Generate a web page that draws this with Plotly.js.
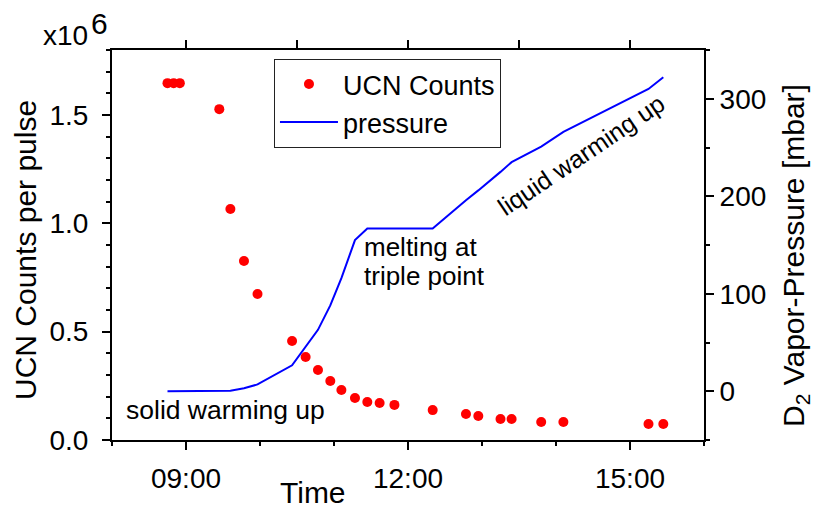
<!DOCTYPE html>
<html>
<head>
<meta charset="utf-8">
<script src="https://cdn.plot.ly/plotly-3.0.1.min.js"></script>
<style>
  html, body { margin: 0; padding: 0; background: #ffffff; }
  #chart { width: 817px; height: 509px; }
</style>
</head>
<body>
<div id="chart"></div>
<script>
// ---- data ----
var day = "2000-01-01 ";
var times = ["08:45","08:50","08:55","09:27","09:36","09:47","09:58","10:26","10:37","10:47","10:57","11:06","11:17","11:27","11:37","11:49","12:20","12:47","12:57","13:15","13:24","13:48","14:06","15:15","15:27"];
// UCN counts per pulse, in units of 10^6
var ucnCounts = [1.647,1.647,1.647,1.527,1.066,0.826,0.674,0.457,0.383,0.323,0.272,0.231,0.194,0.175,0.171,0.162,0.138,0.120,0.111,0.097,0.097,0.083,0.083,0.074,0.074];
// D2 vapor pressure [mbar]
var pressure = [0,0,0,0,0.5,3,7,26.6,45,63,88,116,155,167,167,167,167,196,206,225,235,251,266,310,322];

var xTimes = times.map(function (t) { return day + t; });

var FONT = "Liberation Sans, Arial, sans-serif";

var traces = [
  {
    x: xTimes, y: ucnCounts, name: "UCN Counts", type: "scatter", mode: "markers",
    marker: { color: "#ff0000", size: 10 }, xaxis: "x", yaxis: "y"
  },
  {
    x: xTimes, y: pressure, name: "pressure", type: "scatter", mode: "lines",
    line: { color: "#0000ff", width: 2 }, xaxis: "x", yaxis: "y2"
  },
  {
    // carrier for the top (mirror) axis, invisible
    x: xTimes, y: ucnCounts, type: "scatter", mode: "markers",
    marker: { opacity: 0 }, showlegend: false, hoverinfo: "skip",
    xaxis: "x2", yaxis: "y"
  }
];

var xRange = [day + "08:00", day + "16:00"];

var layout = {
  width: 817, height: 509,
  margin: { l: 112, r: 113, t: 50, b: 69, pad: 0 },
  paper_bgcolor: "#ffffff", plot_bgcolor: "#ffffff",
  font: { family: FONT, color: "#000000", size: 28 },
  showlegend: true,
  legend: {
    x: 0.2736, y: 0.977, xanchor: "left", yanchor: "top",
    bgcolor: "#ffffff", bordercolor: "#222222", borderwidth: 1,
    font: { family: FONT, size: 27, color: "#000000" },
    itemwidth: 58, tracegroupgap: 0,
    entrywidth: 178, entrywidthmode: "pixels"
  },
  xaxis: {
    type: "date", range: xRange, tick0: day + "09:00", dtick: 10800000,
    tickformat: "%H:%M", showgrid: false, zeroline: false,
    showline: true, linecolor: "#000000", linewidth: 2,
    ticks: "outside", ticklen: 8, tickwidth: 2, tickcolor: "#000000",
    ticklabelstandoff: 4,
    tickfont: { family: FONT, size: 28 },
    minor: { ticks: "outside", ticklen: 4, tickwidth: 2, tickcolor: "#000000", dtick: 3600000, tick0: day + "09:00", showgrid: false }
  },
  xaxis2: {
    type: "date", range: xRange, overlaying: "x", side: "top",
    tick0: day + "09:00", dtick: 5400000, showticklabels: false,
    showgrid: false, zeroline: false,
    showline: true, linecolor: "#000000", linewidth: 2,
    ticks: "outside", ticklen: 8, tickwidth: 2, tickcolor: "#000000"
  },
  yaxis: {
    range: [0, 1.8], tick0: 0, dtick: 0.5, tickformat: ".1f",
    showgrid: false, zeroline: false,
    showline: true, linecolor: "#000000", linewidth: 2,
    ticks: "outside", ticklen: 8, tickwidth: 2, tickcolor: "#000000",
    ticklabelstandoff: 8,
    tickfont: { family: FONT, size: 28 },
    minor: { ticks: "outside", ticklen: 4, tickwidth: 2, tickcolor: "#000000", dtick: 0.1, showgrid: false }
  },
  yaxis2: {
    range: [-50, 350], tick0: 0, dtick: 100, overlaying: "y", side: "right",
    showgrid: false, zeroline: false,
    showline: true, linecolor: "#000000", linewidth: 2,
    ticks: "outside", ticklen: 8, tickwidth: 2, tickcolor: "#000000",
    ticklabelstandoff: 0,
    tickfont: { family: FONT, size: 28 },
    minor: { ticks: "outside", ticklen: 4, tickwidth: 2, tickcolor: "#000000", dtick: 50, showgrid: false }
  },
  annotations: [
    { text: "UCN Counts per pulse", textangle: -90, xref: "paper", yref: "paper",
      x: (26 - 112) / 592, y: (440 - 250) / 390, xanchor: "center", yanchor: "middle",
      showarrow: false, font: { family: FONT, size: 30 } },
    { text: "D<sub>2</sub> Vapor-Pressure [mbar]", textangle: -90, xref: "paper", yref: "paper",
      x: (795 - 112) / 592, y: (440 - 256) / 390, xanchor: "center", yanchor: "middle",
      showarrow: false, font: { family: FONT, size: 30 } },
    { text: "Time", xref: "paper", yref: "paper",
      x: (313 - 112) / 592, y: (440 - 492) / 390, xanchor: "center", yanchor: "middle",
      showarrow: false, font: { family: FONT, size: 30 } },
    { text: "x10", xref: "paper", yref: "paper",
      x: (41 - 112) / 592, y: (440 - 36) / 390, xanchor: "left", yanchor: "middle",
      showarrow: false, font: { family: FONT, size: 28 } },
    { text: "6", xref: "paper", yref: "paper",
      x: (89 - 112) / 592, y: (440 - 23) / 390, xanchor: "left", yanchor: "middle",
      showarrow: false, font: { family: FONT, size: 30 } },
    { text: "solid warming up", xref: "paper", yref: "paper",
      x: (124 - 112) / 592, y: (440 - 410) / 390, xanchor: "left", yanchor: "middle",
      showarrow: false, font: { family: FONT, size: 26.5 } },
    { text: "melting at", xref: "paper", yref: "paper",
      x: (362 - 112) / 592, y: (440 - 247) / 390, xanchor: "left", yanchor: "middle",
      showarrow: false, font: { family: FONT, size: 26 } },
    { text: "triple point", xref: "paper", yref: "paper",
      x: (362 - 112) / 592, y: (440 - 276) / 390, xanchor: "left", yanchor: "middle",
      showarrow: false, font: { family: FONT, size: 26 } },
    { text: "liquid warming up", textangle: -34, xref: "paper", yref: "paper",
      x: (581 - 112) / 592, y: (440 - 155) / 390, xanchor: "center", yanchor: "middle",
      showarrow: false, font: { family: FONT, size: 25 } }
  ]
};

Plotly.newPlot("chart", traces, layout, { displayModeBar: false, staticPlot: true });
</script>
</body>
</html>
